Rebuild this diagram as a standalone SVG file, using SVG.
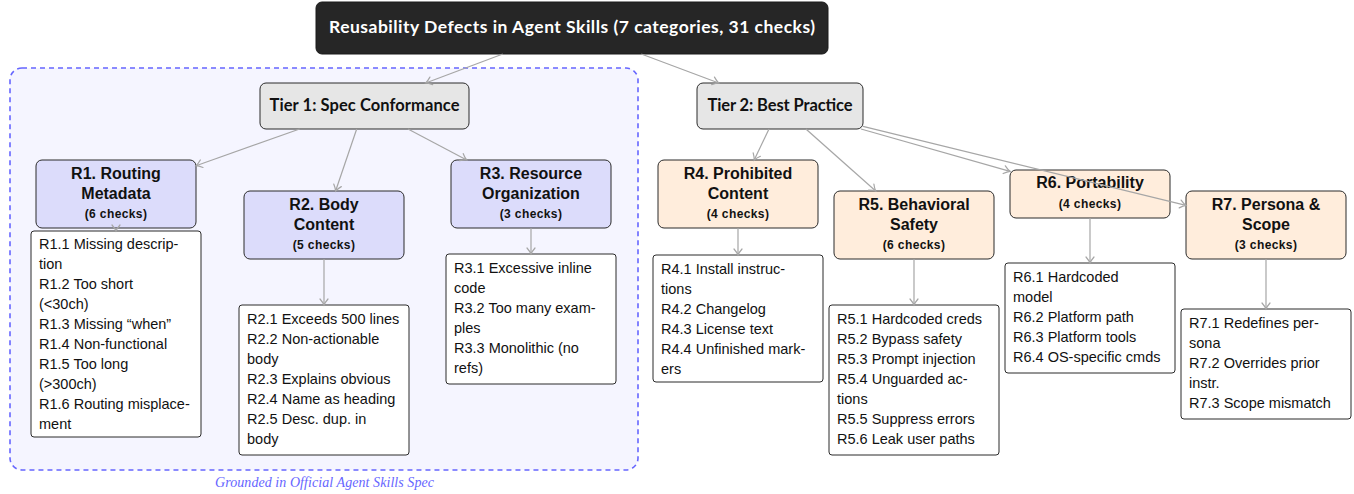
<svg xmlns="http://www.w3.org/2000/svg" width="1354" height="494" viewBox="0 0 1354 494">
<defs>
<style>
.title{fill:#262626;stroke:#1a1a1a;stroke-width:1}
.tier{fill:#e6e6e6;stroke:#2b2b2b;stroke-width:1}
.blue{fill:#dcdcfb;stroke:#2b2b2b;stroke-width:1}
.orange{fill:#ffeddc;stroke:#2b2b2b;stroke-width:1}
.list{fill:#ffffff;stroke:#2b2b2b;stroke-width:1}
.tt{font-family:Lato,"Liberation Sans",sans-serif;font-weight:bold;font-size:17.5px;fill:#ffffff;text-anchor:middle}
.tiert{font-family:Lato,"Liberation Sans",sans-serif;font-weight:bold;font-size:16.5px;fill:#111;text-anchor:middle}
.h{font-family:"Liberation Sans",Arial,sans-serif;font-weight:bold;font-size:16px;fill:#111;text-anchor:middle}
.c{font-family:"Liberation Sans",Arial,sans-serif;font-weight:bold;font-size:12px;letter-spacing:0.4px;fill:#111;text-anchor:middle}
.l{font-family:"Liberation Sans",Arial,sans-serif;font-size:14.5px;fill:#111}
.note{font-family:"Liberation Serif","Times New Roman",serif;font-style:italic;font-size:14px;fill:#6666ff;text-anchor:middle}
.edge{fill:none;stroke:#a6a6a6;stroke-width:1.2;marker-end:url(#arr)}
</style>
<marker id="arr" markerUnits="userSpaceOnUse" markerWidth="12" markerHeight="12" viewBox="-8 -6 10 12" refX="0" refY="0" orient="auto">
<path d="M-6,-4 Q-2.5,-1 0,0 Q-2.5,1 -6,4" fill="none" stroke="#a6a6a6" stroke-width="1.2" stroke-linecap="round"/>
</marker>
</defs>

<g id="spec-region">
<rect x="10" y="68" width="628" height="402" rx="12" fill="#f5f5ff" stroke="#6666ff" stroke-width="1.6" stroke-dasharray="5 4"/>
<text class="note" x="324.5" y="487" textLength="219">Grounded in Official Agent Skills Spec</text>
</g>

<g id="root">
<rect class="title" x="316" y="2" width="512" height="52" rx="6"/>
<text class="tt" x="572" y="33" textLength="486">Reusability Defects in Agent Skills (7 categories, 31 checks)</text>
</g>

<g id="tier1">
<rect class="tier" x="260" y="83" width="209" height="46" rx="6"/>
<text class="tiert" x="364.5" y="111" textLength="190">Tier 1: Spec Conformance</text>
</g>

<g id="tier2">
<rect class="tier" x="697" y="83" width="166" height="46" rx="6"/>
<text class="tiert" x="780" y="111" textLength="145">Tier 2: Best Practice</text>
</g>

<g id="r1">
<rect class="blue" x="36" y="160" width="160" height="68" rx="6"/>
<text class="h" x="116" y="179">R1. Routing</text>
<text class="h" x="116" y="199">Metadata</text>
<text class="c" x="116" y="218">(6 checks)</text>
</g>
<g id="r1-list">
<rect class="list" x="31" y="231" width="170" height="206" rx="3"/>
<text class="l" x="39" y="249">R1.1 Missing descrip-</text>
<text class="l" x="39" y="269">tion</text>
<text class="l" x="39" y="289">R1.2 Too short</text>
<text class="l" x="39" y="309">(&lt;30ch)</text>
<text class="l" x="39" y="329">R1.3 Missing “when”</text>
<text class="l" x="39" y="349">R1.4 Non-functional</text>
<text class="l" x="39" y="369">R1.5 Too long</text>
<text class="l" x="39" y="389">(&gt;300ch)</text>
<text class="l" x="39" y="409">R1.6 Routing misplace-</text>
<text class="l" x="39" y="429">ment</text>
</g>

<g id="r2">
<rect class="blue" x="244" y="191" width="160" height="68" rx="6"/>
<text class="h" x="324" y="210">R2. Body</text>
<text class="h" x="324" y="230">Content</text>
<text class="c" x="324" y="249">(5 checks)</text>
</g>
<g id="r2-list">
<rect class="list" x="239" y="305" width="170" height="150" rx="3"/>
<text class="l" x="247" y="324">R2.1 Exceeds 500 lines</text>
<text class="l" x="247" y="344">R2.2 Non-actionable</text>
<text class="l" x="247" y="364">body</text>
<text class="l" x="247" y="384">R2.3 Explains obvious</text>
<text class="l" x="247" y="404">R2.4 Name as heading</text>
<text class="l" x="247" y="424">R2.5 Desc. dup. in</text>
<text class="l" x="247" y="444">body</text>
</g>

<g id="r3">
<rect class="blue" x="451" y="160" width="160" height="68" rx="6"/>
<text class="h" x="531" y="179">R3. Resource</text>
<text class="h" x="531" y="199">Organization</text>
<text class="c" x="531" y="218">(3 checks)</text>
</g>
<g id="r3-list">
<rect class="list" x="446" y="254" width="170" height="130" rx="3"/>
<text class="l" x="454" y="273">R3.1 Excessive inline</text>
<text class="l" x="454" y="293">code</text>
<text class="l" x="454" y="313">R3.2 Too many exam-</text>
<text class="l" x="454" y="333">ples</text>
<text class="l" x="454" y="353">R3.3 Monolithic (no</text>
<text class="l" x="454" y="373">refs)</text>
</g>

<g id="r4">
<rect class="orange" x="658" y="160" width="160" height="68" rx="6"/>
<text class="h" x="738" y="179">R4. Prohibited</text>
<text class="h" x="738" y="199">Content</text>
<text class="c" x="738" y="218">(4 checks)</text>
</g>
<g id="r4-list">
<rect class="list" x="653" y="255" width="170" height="127" rx="3"/>
<text class="l" x="661" y="274">R4.1 Install instruc-</text>
<text class="l" x="661" y="294">tions</text>
<text class="l" x="661" y="314">R4.2 Changelog</text>
<text class="l" x="661" y="334">R4.3 License text</text>
<text class="l" x="661" y="354">R4.4 Unfinished mark-</text>
<text class="l" x="661" y="374">ers</text>
</g>

<g id="r5">
<rect class="orange" x="834" y="191" width="160" height="68" rx="6"/>
<text class="h" x="914" y="210">R5. Behavioral</text>
<text class="h" x="914" y="230">Safety</text>
<text class="c" x="914" y="249">(6 checks)</text>
</g>
<g id="r5-list">
<rect class="list" x="829" y="305" width="170" height="150" rx="3"/>
<text class="l" x="837" y="324">R5.1 Hardcoded creds</text>
<text class="l" x="837" y="344">R5.2 Bypass safety</text>
<text class="l" x="837" y="364">R5.3 Prompt injection</text>
<text class="l" x="837" y="384">R5.4 Unguarded ac-</text>
<text class="l" x="837" y="404">tions</text>
<text class="l" x="837" y="424">R5.5 Suppress errors</text>
<text class="l" x="837" y="444">R5.6 Leak user paths</text>
</g>

<g id="r6">
<rect class="orange" x="1010" y="170" width="160" height="48" rx="6"/>
<text class="h" x="1090" y="188">R6. Portability</text>
<text class="c" x="1090" y="208">(4 checks)</text>
</g>
<g id="r6-list">
<rect class="list" x="1005" y="263" width="170" height="110" rx="3"/>
<text class="l" x="1013" y="282">R6.1 Hardcoded</text>
<text class="l" x="1013" y="302">model</text>
<text class="l" x="1013" y="322">R6.2 Platform path</text>
<text class="l" x="1013" y="342">R6.3 Platform tools</text>
<text class="l" x="1013" y="362">R6.4 OS-specific cmds</text>
</g>

<g id="r7">
<rect class="orange" x="1186" y="191" width="160" height="68" rx="6"/>
<text class="h" x="1266" y="210">R7. Persona &amp;</text>
<text class="h" x="1266" y="230">Scope</text>
<text class="c" x="1266" y="249">(3 checks)</text>
</g>
<g id="r7-list">
<rect class="list" x="1181" y="309" width="170" height="110" rx="3"/>
<text class="l" x="1189" y="328">R7.1 Redefines per-</text>
<text class="l" x="1189" y="348">sona</text>
<text class="l" x="1189" y="368">R7.2 Overrides prior</text>
<text class="l" x="1189" y="388">instr.</text>
<text class="l" x="1189" y="408">R7.3 Scope mismatch</text>
</g>

<g id="connectors">
<line class="edge" x1="502.8" y1="54" x2="425.7" y2="83"/>
<line class="edge" x1="641.3" y1="54" x2="718.7" y2="83"/>
<line class="edge" x1="299.6" y1="129" x2="196" y2="165.7"/>
<line class="edge" x1="356.7" y1="129" x2="335.6" y2="191"/>
<line class="edge" x1="408" y1="129" x2="466.7" y2="160"/>
<line class="edge" x1="769" y1="129" x2="754.2" y2="160"/>
<line class="edge" x1="805.9" y1="129" x2="875.7" y2="191"/>
<line class="edge" x1="861" y1="129" x2="1010" y2="171.3"/>
<line class="edge" x1="863" y1="126.3" x2="1186" y2="205.4"/>
<line class="edge" x1="116" y1="228" x2="116" y2="231"/>
<line class="edge" x1="324" y1="259" x2="324" y2="305"/>
<line class="edge" x1="531" y1="228" x2="531" y2="254"/>
<line class="edge" x1="738" y1="228" x2="738" y2="255"/>
<line class="edge" x1="914" y1="259" x2="914" y2="305"/>
<line class="edge" x1="1090" y1="218" x2="1090" y2="263"/>
<line class="edge" x1="1266" y1="259" x2="1266" y2="309"/>
</g>
</svg>
